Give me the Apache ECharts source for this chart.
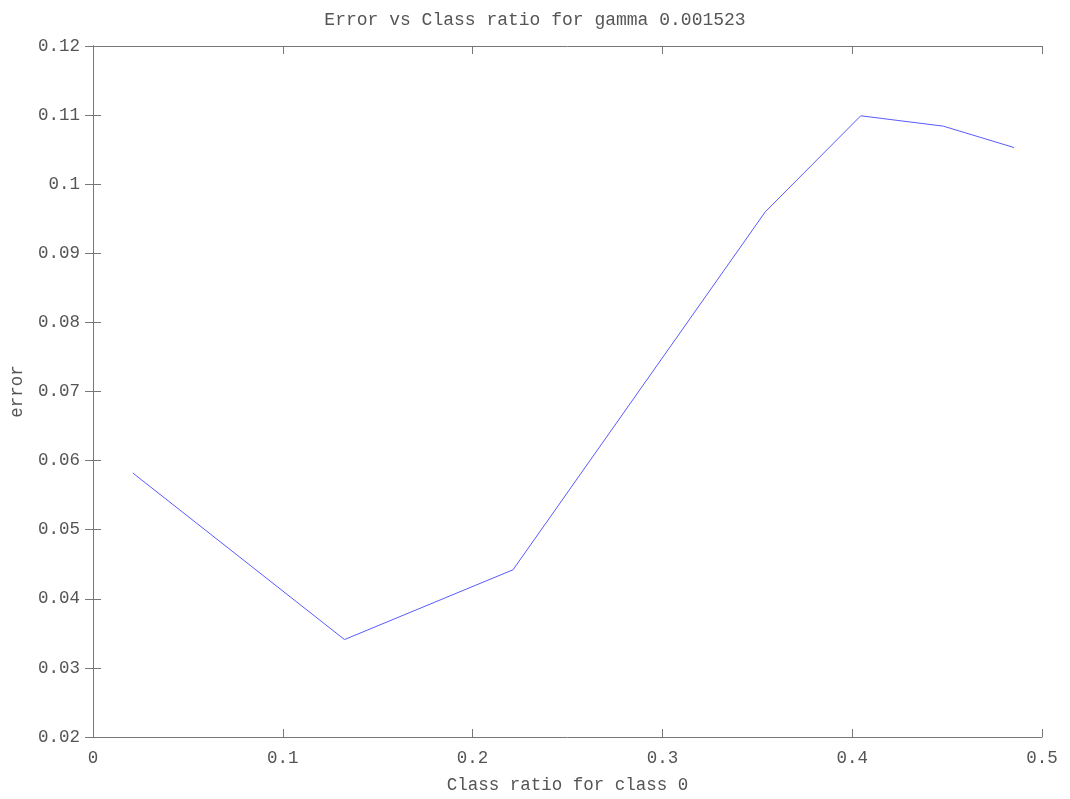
<!DOCTYPE html>
<html><head><meta charset="utf-8">
<script src="https://cdn.jsdelivr.net/npm/echarts@6/dist/echarts.min.js"></script>
<style>html,body{margin:0;padding:0;background:#fff}#c{width:1070px;height:799px}</style>
</head><body><div id="c"></div>
<script>
const classRatio = [0.021, 0.1325, 0.2213, 0.3542, 0.4045, 0.4480, 0.4853];
const errorVals = [0.0582, 0.0341, 0.0442, 0.0960, 0.1099, 0.1084, 0.1053];
const titleText = 'Error vs Class ratio for gamma 0.001523';
const xLabel = 'Class ratio for class 0';
const yLabel = 'error';

const font = '"Liberation Mono", "DejaVu Sans Mono", monospace';
const axisColor = '#777';
const txtColor = '#555';
const chart = echarts.init(document.getElementById('c'), null, {renderer: 'canvas'});
const common = {
  axisLine: {show: true, lineStyle: {color: axisColor, width: 1}},
  axisTick: {show: true, inside: true, length: 8, lineStyle: {color: axisColor}},
  splitLine: {show: false}
};
chart.setOption({
  animation: false,
  title: {text: titleText, left: 'center', top: 6,
    textStyle: {fontFamily: font, fontSize: 18, fontWeight: 'normal', color: txtColor}},
  grid: {left: 90, right: 28, top: 46, bottom: 61},
  xAxis: [
    Object.assign({type: 'value', min: 0, max: 0.5, interval: 0.1, position: 'bottom',
      name: xLabel, nameLocation: 'middle', nameGap: 39,
      nameTextStyle: {fontFamily: font, fontSize: 17.5, color: txtColor},
      axisLabel: {fontFamily: font, fontSize: 17.5, color: txtColor, margin: 12}}, common),
    Object.assign({type: 'value', min: 0, max: 0.5, interval: 0.1, position: 'top',
      axisLabel: {show: false}}, common)
  ],
  yAxis: [
    Object.assign({type: 'value', min: 0.02, max: 0.12, interval: 0.01, position: 'left',
      name: yLabel, nameLocation: 'middle', nameGap: 67, nameRotate: 90,
      nameTextStyle: {fontFamily: font, fontSize: 17.5, color: txtColor},
      axisLabel: {fontFamily: font, fontSize: 17.5, color: txtColor, margin: 13,
        formatter: v => String(+v.toFixed(2))}}, common),
    Object.assign({type: 'value', min: 0.02, max: 0.12, interval: 0.01, position: 'right',
      axisLabel: {show: false}}, common)
  ],
  series: [{
    type: 'line',
    data: classRatio.map((x, i) => [x, errorVals[i]]),
    showSymbol: false,
    lineStyle: {color: '#5a5aff', width: 1},
    itemStyle: {color: '#5a5aff'}
  }]
});
</script></body></html>
